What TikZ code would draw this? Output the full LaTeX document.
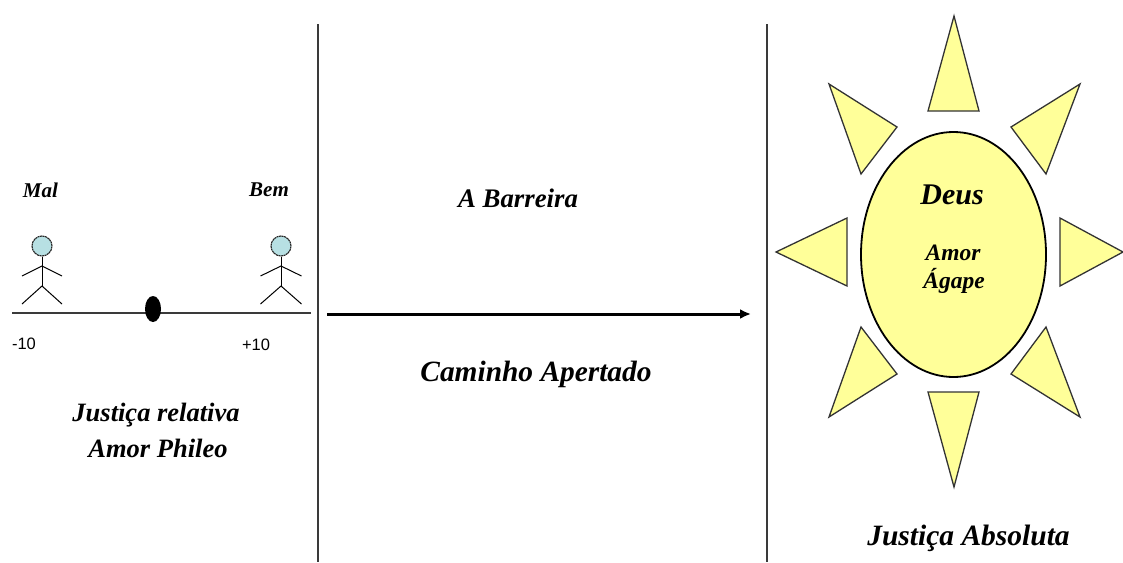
\documentclass[tikz,border=0pt]{standalone}
\usepackage{fontspec}
\setmainfont{Liberation Serif}
\newfontfamily\labelsans{Liberation Sans}
\usetikzlibrary{arrows.meta,shapes.geometric}
\definecolor{sunfill}{HTML}{FFFF99}
\definecolor{headfill}{HTML}{B7E0E3}
\definecolor{rulegrey}{HTML}{3A3A3A}
\tikzset{
  ttl/.style={font=\bfseries\itshape\fontsize{#1}{#1}\selectfont,inner sep=0pt,align=center},
  ray/.style={draw=black!80,fill=sunfill,line width=1.3pt,line join=miter},
  divider/.style={draw=rulegrey,line width=1.8pt},
  limb/.style={draw=black,line width=1pt},
  head/.style={circle,draw=black!85,fill=headfill,line width=1.1pt,dash pattern=on 2pt off .6pt,minimum size=20pt,inner sep=0pt},
  num/.style={font=\labelsans\fontsize{16.5}{16.5}\selectfont,inner sep=0pt}
}
\begin{document}
\begin{tikzpicture}[x=1pt,y=-1pt]
\useasboundingbox (0,0) rectangle (1123,562);
% dividers
\coordinate (d1a) at (318,24); \coordinate (d1b) at (318,562);
\coordinate (d2a) at (767,24); \coordinate (d2b) at (767,562);
\draw[divider] (d1a) -- (d1b);
\draw[divider] (d2a) -- (d2b);
% base line
\coordinate (ba) at (12,313); \coordinate (bb) at (311,313);
\draw[draw=rulegrey,line width=1.8pt] (ba) -- (bb);
\node[ellipse,fill=black,minimum width=16pt,minimum height=26pt,inner sep=0pt] (blob) at (153,309) {};
% figures
\foreach \n/\x/\w in {l/42/20,r/281/20.5}{
  \node[head] (h\n) at (\x,246) {};
  \coordinate (s\n) at (\x,266); \coordinate (p\n) at (\x,286);
  \coordinate (al\n) at (\x-\w,276); \coordinate (ar\n) at (\x+\w,276);
  \coordinate (ll\n) at (\x-\w,304); \coordinate (lr\n) at (\x+\w,304);
  \draw[limb] (h\n) -- (p\n);
  \draw[limb] (al\n) -- (s\n) -- (ar\n);
  \draw[limb] (ll\n) -- (p\n) -- (lr\n);
}
% arrow
\coordinate (aa) at (327,314); \coordinate (ab) at (751,314);
\draw[line width=3pt,-{Latex[length=11pt,width=10pt]}] (aa) -- (ab);
% sun
\draw[ray] (954,16) -- (979,111) -- (928,111) -- cycle;
\draw[ray] (829,84) -- (897,127) -- (861,174) -- cycle;
\draw[ray] (1080,84) -- (1011,127) -- (1046,174) -- cycle;
\draw[ray] (776,252) -- (847,218) -- (847,286) -- cycle;
\draw[ray] (1123,252) -- (1060,218) -- (1060,286) -- cycle;
\draw[ray] (861,327) -- (897,374) -- (829,417) -- cycle;
\draw[ray] (1046,327) -- (1011,374) -- (1080,417) -- cycle;
\draw[ray] (928,392) -- (979,392) -- (954,487) -- cycle;
\node[ellipse,draw=black,fill=sunfill,line width=1.8pt,minimum width=185pt,minimum height=245pt,inner sep=0pt] (sun) at (953.5,254.5) {};
% text
\node[ttl=21] (mal) at (40.5,190) {Mal};
\node[ttl=21] (bem) at (269,190) {Bem};
\node[num] (m10) at (24,344) {-10};
\node[num] (p10) at (256,345) {+10};
\node[ttl=26.5] (t1) at (156,415) {Justiça relativa};
\node[ttl=26.5] (t2) at (158,448) {Amor Phileo};
\node[ttl=26.8] (t3) at (518,198) {A Barreira};
\node[ttl=29.4] (t4) at (536,374) {Caminho Apertado};
\node[ttl=30] (t5) at (952,195) {Deus};
\node[ttl=23.5] (t6) at (953,253) {Amor};
\node[ttl=23.5] (t7) at (954,281) {Ágape};
\node[ttl=29.5] (t8) at (968.5,538) {Justiça Absoluta};
\end{tikzpicture}
\end{document}
